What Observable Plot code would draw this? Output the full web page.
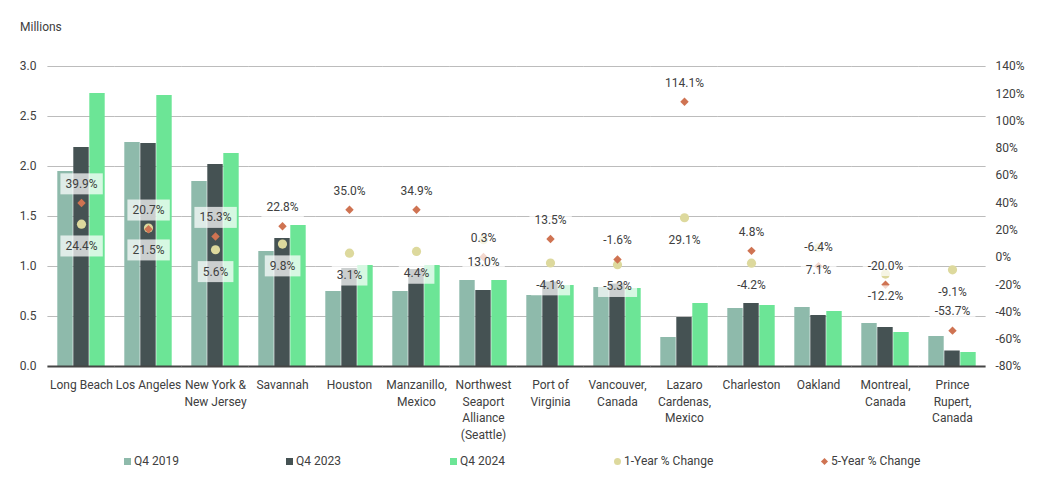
<!DOCTYPE html>
<html>
<head>
<meta charset="utf-8">
<script src="https://cdn.jsdelivr.net/npm/d3@7"></script>
<script src="https://cdn.jsdelivr.net/npm/@observablehq/plot@0.6"></script>
<style>
  html, body { margin: 0; padding: 0; background: #fff; }
  body { width: 1042px; height: 492px; font-family: Roboto, "Noto Sans", sans-serif; color: #404040; }
  #header { box-sizing: border-box; height: 40px; padding: 20px 0 0 20px; font-size: 12px; line-height: 14px; }
  #legend { position: relative; height: 46px; font-size: 12px; line-height: 14px; }
  .item { position: absolute; top: 8px; display: flex; align-items: center; white-space: nowrap; }
  .sw { display: inline-block; width: 7px; height: 7px; margin-right: 3px; }
</style>
</head>
<body>
<div id="header">Millions</div>
<div id="chart"></div>
<div id="legend"></div>
<script>
// ---- data ----
const ports = ["Long Beach","Los Angeles","New York & New Jersey","Savannah","Houston","Manzanillo, Mexico","Northwest Seaport Alliance (Seattle)","Port of Virginia","Vancouver, Canada","Lazaro Cardenas, Mexico","Charleston","Oakland","Montreal, Canada","Prince Rupert, Canada"];
const portLabels = ["Long Beach","Los Angeles","New York &\nNew Jersey","Savannah","Houston","Manzanillo,\nMexico","Northwest\nSeaport\nAlliance\n(Seattle)","Port of\nVirginia","Vancouver,\nCanada","Lazaro\nCardenas,\nMexico","Charleston","Oakland","Montreal,\nCanada","Prince\nRupert,\nCanada"];
const seriesNames = ["Q4 2019","Q4 2023","Q4 2024"];
const q4_2019 = [1.95,2.24,1.85,1.15,0.75,0.75,0.86,0.71,0.79,0.29,0.58,0.59,0.43,0.30];
const q4_2023 = [2.19,2.23,2.02,1.28,0.98,0.97,0.76,0.845,0.825,0.49,0.63,0.51,0.39,0.155];
const q4_2024 = [2.73,2.71,2.13,1.41,1.01,1.01,0.86,0.81,0.78,0.63,0.61,0.55,0.34,0.14];
const oneYearChange = [24.4,21.5,5.6,9.8,3.1,4.4,13.0,-4.1,-5.3,29.1,-4.2,7.1,-12.2,-9.1];
const fiveYearChange = [39.9,20.7,15.3,22.8,35.0,34.9,0.3,13.5,-1.6,114.1,4.8,-6.4,-20.0,-53.7];
const leftTicks = [0,0.5,1.0,1.5,2.0,2.5,3.0];
const rightTicks = [-80,-60,-40,-20,0,20,40,60,80,100,120,140];

const barColors = ["#8ebaab","#455253","#6ce596"];
const oneColor = "#ddd99d", fiveColor = "#cf7352";

// ---- derived tables ----
const seriesValues = [q4_2019, q4_2023, q4_2024];
const bars = ports.flatMap((p, i) => seriesNames.map((s, k) => ({port: p, series: s, value: seriesValues[k][i]})));
const changes = ports.map((p, i) => ({port: p, one: oneYearChange[i], five: fiveYearChange[i]}));
const labelOf = new Map(ports.map((p, i) => [p, portLabels[i]]));

// secondary (percent) axis mapped onto primary scale
const LMAX = leftTicks[leftTicks.length - 1];
const PMIN = rightTicks[0], PMAX = rightTicks[rightTicks.length - 1];
const toLeft = p => (p - PMIN) / (PMAX - PMIN) * LMAX;
const toPct = v => v / LMAX * (PMAX - PMIN) + PMIN;
const fmtPct = v => v.toFixed(1) + "%";

// gridlines extend across the gaps between port groups
const GAP = -8.6;

const chart = Plot.plot({
  width: 1042,
  height: 406,
  marginLeft: 47,
  marginRight: 57,
  marginTop: 26,
  marginBottom: 80,
  style: {fontFamily: "Roboto, 'Noto Sans', sans-serif", fontSize: "12px", color: "#404040", background: "#fff"},
  fx: {domain: ports, paddingInner: 0.254, paddingOuter: 0.12, label: null, axis: null},
  x: {domain: seriesNames, padding: 0, axis: null},
  y: {domain: [0, LMAX], axis: null},
  color: {domain: seriesNames, range: barColors},
  marks: [
    Plot.ruleY(leftTicks.filter(d => d > 0), {stroke: "#bcbcbc", strokeWidth: 1, insetLeft: GAP, insetRight: GAP}),
    Plot.axisY(leftTicks, {anchor: "left", label: null, tickSize: 0, tickPadding: 20, tickFormat: d => d.toFixed(1), fill: "#404040"}),
    Plot.axisY(rightTicks.map(toLeft), {anchor: "right", label: null, tickSize: 0, tickPadding: 18, tickFormat: v => Math.round(toPct(v)) + "%", fill: "#404040"}),
    Plot.axisFx({anchor: "bottom", label: null, tickSize: 0, tickPadding: 10.5, tickFormat: p => labelOf.get(p), lineHeight: 1.39, fill: "#404040"}),
    Plot.barY(bars, {fx: "port", x: "series", y: "value", fill: "series", insetLeft: 0.3, insetRight: 0.3}),
    Plot.ruleY([0], {stroke: "#454545", strokeWidth: 2, insetLeft: GAP, insetRight: GAP}),
    Plot.dot(changes, {fx: "port", y: d => toLeft(d.one), r: 4.6, fill: oneColor, stroke: "none"}),
    Plot.dot(changes, {fx: "port", y: d => toLeft(d.five), r: 3.8, symbol: "diamond2", fill: fiveColor, stroke: "none"}),
    Plot.text(changes, {fx: "port", y: d => toLeft(d.five), text: d => fmtPct(d.five), dy: -19, fill: "#404040", ariaDescription: "pct-label"}),
    Plot.text(changes, {fx: "port", y: d => toLeft(d.one), text: d => fmtPct(d.one), dy: 22, fill: "#404040", ariaDescription: "pct-label"})
  ]
});
document.getElementById("chart").appendChild(chart);

// semi-transparent white boxes behind percentage labels
chart.querySelectorAll('g[aria-description="pct-label"] text').forEach(t => {
  const b = t.getBBox();
  const r = document.createElementNS("http://www.w3.org/2000/svg", "rect");
  r.setAttribute("x", b.x - 5);
  r.setAttribute("y", b.y - 3.5);
  r.setAttribute("width", b.width + 10);
  r.setAttribute("height", b.height + 7);
  r.setAttribute("fill", "#ffffff");
  r.setAttribute("fill-opacity", "0.72");
  const tr = t.getAttribute("transform");
  if (tr) r.setAttribute("transform", tr);
  t.parentNode.insertBefore(r, t);
});

// legend
const legendItems = [
  {label: "Q4 2019", color: barColors[0], shape: "square", left: 124},
  {label: "Q4 2023", color: barColors[1], shape: "square", left: 286},
  {label: "Q4 2024", color: barColors[2], shape: "square", left: 450},
  {label: "1-Year % Change", color: oneColor, shape: "circle", left: 614},
  {label: "5-Year % Change", color: fiveColor, shape: "diamond", left: 821}
];
const legend = document.getElementById("legend");
legendItems.forEach(it => {
  const d = document.createElement("div");
  d.className = "item";
  d.style.left = it.left + "px";
  const sw = document.createElement("span");
  sw.className = "sw";
  sw.style.background = it.color;
  if (it.shape === "circle") { sw.style.borderRadius = "50%"; }
  if (it.shape === "diamond") { sw.style.width = "5px"; sw.style.height = "5px"; sw.style.transform = "rotate(45deg)"; sw.style.margin = "0 4px 0 1px"; }
  d.appendChild(sw);
  d.appendChild(document.createTextNode(it.label));
  legend.appendChild(d);
});
</script>
</body>
</html>
